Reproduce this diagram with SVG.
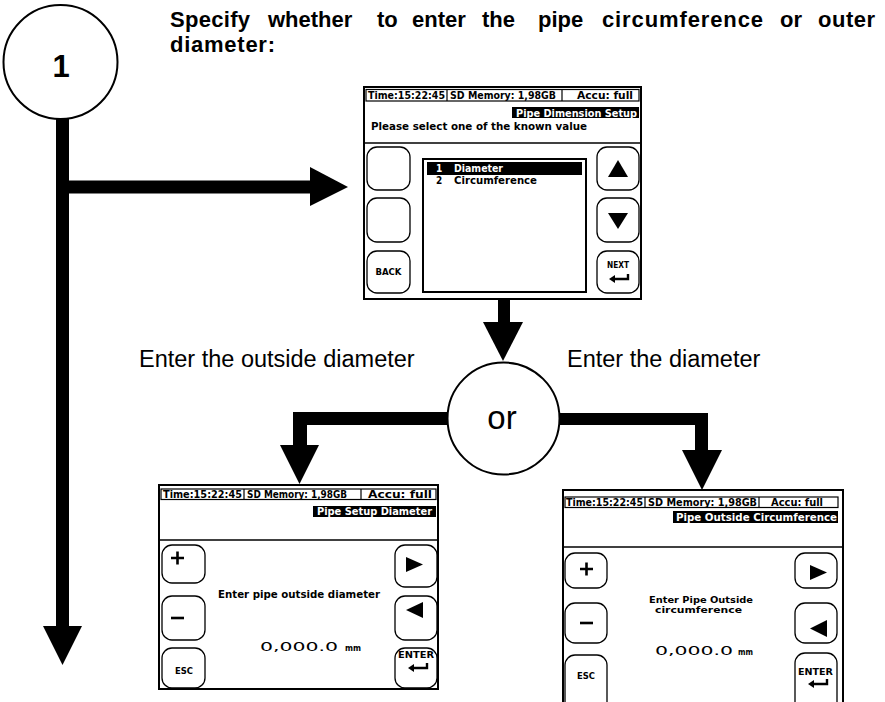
<svg xmlns="http://www.w3.org/2000/svg" width="885" height="702" viewBox="0 0 885 702">
<style>
.title{font-family:"Liberation Sans",Arial,sans-serif;font-weight:bold;font-size:22px;fill:#000}
.lbl{font-family:"Liberation Sans",Arial,sans-serif;font-size:23.5px;fill:#000}
.scr{font-family:"DejaVu Sans Condensed","Liberation Sans Narrow","Liberation Sans",sans-serif;font-weight:bold;font-size:10px;fill:#000}
.key{font-size:8.5px}
.inv{fill:#fff}
.frame{fill:#fff;stroke:#000;stroke-width:2}
.thin{fill:none;stroke:#000;stroke-width:1.2}
.btn{fill:#fff;stroke:#000;stroke-width:1.3}
.sym{fill:none;stroke:#000;stroke-width:2.6}
.circ{fill:#fff;stroke:#000;stroke-width:2}
</style>
<defs>
<g id="enter"><path d="M0,-5 V0 H-14" fill="none" stroke="#000" stroke-width="2.4"/><path d="M-19,0 L-13,-4 L-13,4 Z" fill="#000"/></g>
</defs>

<text class="title"><tspan x="170" y="26.5" textLength="80">Specify</tspan><tspan x="268" y="26.5">whether</tspan><tspan x="377" y="26.5">to</tspan><tspan x="412" y="26.5">enter</tspan><tspan x="482" y="26.5">the</tspan><tspan x="538" y="26.5">pipe</tspan><tspan x="602" y="26.5" textLength="161">circumference</tspan><tspan x="780" y="26.5">or</tspan><tspan x="818" y="26.5" textLength="57">outer</tspan></text>
<text class="title" x="170" y="51.5" textLength="105">diameter:</text>

<g id="connectors" fill="#000">
<rect x="56" y="118" width="13" height="510"/>
<path d="M43,626 L82,626 L62.5,665 Z"/>
<rect x="68" y="180.5" width="244" height="13"/>
<path d="M310,167 L348,187 L310,206 Z"/>
<rect x="498" y="300" width="12" height="24"/>
<path d="M483,322 L523,322 L503,361 Z"/>
<path d="M450,412 H293 V447 H307 V425 H450 Z"/>
<path d="M280,445 L319,445 L299.5,484 Z"/>
<path d="M557,413 H708 V452 H695 V425 H557 Z"/>
<path d="M682,450 L722,450 L702,490 Z"/>
</g>

<g id="step1">
<circle class="circ" cx="60.5" cy="62" r="57"/>
<text x="61" y="77" text-anchor="middle" style="font-family:'Liberation Sans',Arial,sans-serif;font-weight:bold;font-size:31px">1</text>
</g>

<g id="or-node">
<circle class="circ" cx="503.5" cy="418.5" r="56"/>
<text x="502" y="429" text-anchor="middle" style="font-family:'Liberation Sans',Arial,sans-serif;font-size:33px">or</text>
</g>

<text class="lbl" x="139" y="367">Enter the outside diameter</text>
<text class="lbl" x="567" y="367">Enter the diameter</text>

<g id="screen-dimension-setup">
<rect class="frame" x="364" y="87" width="277" height="212"/>
<rect class="thin" x="366" y="89.5" width="273" height="11.5"/>
<line class="thin" x1="447" y1="89.5" x2="447" y2="101"/>
<line class="thin" x1="562" y1="89.5" x2="562" y2="101"/>
<text class="scr" x="368" y="99" textLength="77" lengthAdjust="spacingAndGlyphs">Time:15:22:45</text>
<text class="scr" x="450" y="99" textLength="106" lengthAdjust="spacingAndGlyphs">SD Memory: 1,98GB</text>
<text class="scr" x="577" y="99" textLength="56" lengthAdjust="spacingAndGlyphs">Accu: full</text>
<rect x="512" y="107" width="127" height="11" fill="#000"/>
<text class="scr inv" x="516" y="116.5" textLength="121" lengthAdjust="spacingAndGlyphs">Pipe Dimension Setup</text>
<text class="scr" x="371" y="130" textLength="216" lengthAdjust="spacingAndGlyphs">Please select one of the known value</text>
<line x1="364" y1="143" x2="641" y2="143" stroke="#000" stroke-width="1.5"/>
<rect class="btn" x="367" y="147" width="43" height="43" rx="10"/>
<rect class="btn" x="367" y="198" width="43" height="44" rx="10"/>
<rect class="btn" x="367" y="251" width="43" height="42" rx="10"/>
<rect class="btn" x="597" y="147" width="42" height="43" rx="10"/>
<rect class="btn" x="597" y="198" width="42" height="44" rx="10"/>
<rect class="btn" x="597" y="251" width="42" height="42" rx="10"/>
<rect x="423" y="159" width="163" height="133" fill="#fff" stroke="#000" stroke-width="2"/>
<rect x="427" y="162" width="155" height="13" fill="#000"/>
<text class="scr inv" x="436" y="172">1</text>
<text class="scr inv" x="454" y="172" textLength="49" lengthAdjust="spacingAndGlyphs">Diameter</text>
<text class="scr" x="436" y="184">2</text>
<text class="scr" x="454" y="184" textLength="83" lengthAdjust="spacingAndGlyphs">Circumference</text>
<path d="M608,177 L628,177 L618,160 Z" fill="#000"/>
<path d="M608,213 L628,213 L618,229 Z" fill="#000"/>
<text class="scr key" x="388.5" y="275" text-anchor="middle" textLength="26" lengthAdjust="spacingAndGlyphs">BACK</text>
<text class="scr key" x="618" y="268" text-anchor="middle" textLength="22" lengthAdjust="spacingAndGlyphs">NEXT</text>
<use href="#enter" x="628" y="279"/>
</g>

<g id="screen-setup-diameter">
<rect class="frame" x="159" y="485" width="279" height="204"/>
<rect class="thin" x="161" y="489" width="275" height="10.5"/>
<line class="thin" x1="244" y1="489" x2="244" y2="499.5"/>
<line class="thin" x1="361" y1="489" x2="361" y2="499.5"/>
<text class="scr" x="163" y="497.5" textLength="79" lengthAdjust="spacingAndGlyphs">Time:15:22:45</text>
<text class="scr" x="247" y="497.5" textLength="100" lengthAdjust="spacingAndGlyphs">SD Memory: 1,98GB</text>
<text class="scr" x="368" y="497.5" textLength="64" lengthAdjust="spacingAndGlyphs">Accu: full</text>
<rect x="313" y="506" width="123" height="11" fill="#000"/>
<text class="scr inv" x="317" y="515" textLength="115" lengthAdjust="spacingAndGlyphs">Pipe Setup Diameter</text>
<line x1="159" y1="540" x2="438" y2="540" stroke="#000" stroke-width="1.5"/>
<rect class="btn" x="162" y="545" width="43" height="38" rx="10"/>
<rect class="btn" x="162" y="596" width="43" height="44" rx="10"/>
<rect class="btn" x="162" y="648" width="43" height="40" rx="10"/>
<rect class="btn" x="395" y="545" width="42" height="42" rx="10"/>
<rect class="btn" x="395" y="596" width="42" height="44" rx="10"/>
<rect class="btn" x="395" y="648" width="42" height="40" rx="10"/>
<path class="sym" d="M171,558 H184 M177.5,551.5 V564.5"/>
<path class="sym" d="M171,618 H184"/>
<text class="scr key" x="184" y="674" text-anchor="middle" textLength="18" lengthAdjust="spacingAndGlyphs">ESC</text>
<path d="M406,557 L423,564.5 L406,572 Z" fill="#000"/>
<path d="M423,602 L406,610 L423,618 Z" fill="#000"/>
<text class="scr key" x="416" y="658" text-anchor="middle" textLength="36" lengthAdjust="spacingAndGlyphs">ENTER</text>
<use href="#enter" x="427" y="668"/>
<text class="scr" x="218" y="598" textLength="162" lengthAdjust="spacingAndGlyphs">Enter pipe outside diameter</text>
<text class="scr" x="260" y="651" style="font-size:13px;font-weight:normal" textLength="78" lengthAdjust="spacingAndGlyphs">0,000.0</text>
<text class="scr" x="345" y="651" style="font-size:8px" textLength="16" lengthAdjust="spacingAndGlyphs">mm</text>
</g>

<g id="screen-outside-circumference">
<rect class="frame" x="563" y="490" width="280" height="230"/>
<rect class="thin" x="565" y="497" width="273" height="10.5"/>
<line class="thin" x1="645" y1="497" x2="645" y2="507.5"/>
<line class="thin" x1="759" y1="497" x2="759" y2="507.5"/>
<text class="scr" x="566" y="505.5" textLength="77" lengthAdjust="spacingAndGlyphs">Time:15:22:45</text>
<text class="scr" x="648" y="505.5" textLength="109" lengthAdjust="spacingAndGlyphs">SD Memory: 1,98GB</text>
<text class="scr" x="771" y="505.5" textLength="52" lengthAdjust="spacingAndGlyphs">Accu: full</text>
<rect x="673" y="511" width="165" height="12" fill="#000"/>
<text class="scr inv" x="676" y="521" textLength="161" lengthAdjust="spacingAndGlyphs">Pipe Outside Circumference</text>
<line x1="563" y1="547" x2="843" y2="547" stroke="#000" stroke-width="1.5"/>
<rect class="btn" x="565" y="553" width="42" height="35" rx="10"/>
<rect class="btn" x="565" y="603" width="42" height="40" rx="10"/>
<rect class="btn" x="565" y="655" width="42" height="60" rx="10"/>
<rect class="btn" x="795" y="553" width="42" height="35" rx="10"/>
<rect class="btn" x="795" y="603" width="42" height="40" rx="10"/>
<rect class="btn" x="795" y="653" width="42" height="60" rx="10"/>
<path class="sym" d="M580,569 H593 M586.5,562.5 V575.5"/>
<path class="sym" d="M580,623 H593"/>
<text class="scr key" x="586" y="679" text-anchor="middle" textLength="18" lengthAdjust="spacingAndGlyphs">ESC</text>
<path d="M810,565 L827,572.5 L810,580 Z" fill="#000"/>
<path d="M827,620 L810,628.5 L827,637 Z" fill="#000"/>
<text class="scr key" x="815.5" y="675" text-anchor="middle" textLength="35" lengthAdjust="spacingAndGlyphs">ENTER</text>
<use href="#enter" x="827" y="684"/>
<text class="scr" x="649" y="603" style="font-size:9px" textLength="104" lengthAdjust="spacingAndGlyphs">Enter Pipe Outside</text>
<text class="scr" x="655" y="612.5" style="font-size:9px" textLength="87" lengthAdjust="spacingAndGlyphs">circumference</text>
<text class="scr" x="655" y="655" style="font-size:13px;font-weight:normal" textLength="78" lengthAdjust="spacingAndGlyphs">0,000.0</text>
<text class="scr" x="738" y="655" style="font-size:8px" textLength="15" lengthAdjust="spacingAndGlyphs">mm</text>
</g>
</svg>
